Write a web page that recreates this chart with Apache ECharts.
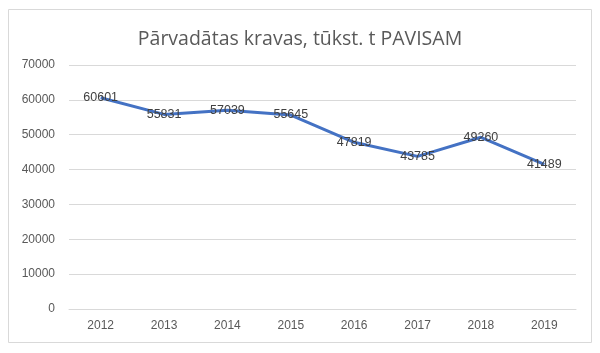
<!DOCTYPE html>
<html>
<head>
<meta charset="utf-8">
<script src="https://cdn.jsdelivr.net/npm/echarts@6/dist/echarts.min.js"></script>
<style>
  html, body { margin: 0; padding: 0; background: #fff; }
  #main { width: 600px; height: 353px; }
</style>
</head>
<body>
<div id="main"></div>
<script>
var years = ['2012', '2013', '2014', '2015', '2016', '2017', '2018', '2019'];
var kravas = [60601, 55831, 57039, 55645, 47819, 43785, 49260, 41489];

var myChart = echarts.init(document.getElementById('main'));
var option = {
    animation: false,
    textStyle: { fontFamily: 'Liberation Sans, Arial, sans-serif' },
    title: {
        text: 'Pārvadātas kravas, tūkst. t PAVISAM',
        left: 'center',
        top: 24,
        textStyle: { fontSize: 19.5, fontWeight: 'normal', color: '#595959', fontFamily: 'Open Sans, sans-serif' }
    },
    graphic: [{
        type: 'rect',
        shape: { x: 8.5, y: 9.5, width: 583, height: 333 },
        style: { fill: 'none', stroke: '#d9d9d9', lineWidth: 1 },
        silent: true
    }],
    grid: { left: 69, right: 24, top: 65, bottom: 44 },
    xAxis: {
        type: 'category',
        data: years,
        axisLine: { lineStyle: { color: '#d9d9d9' } },
        axisTick: { show: false },
        axisLabel: { color: '#595959', fontSize: 12, margin: 11 }
    },
    yAxis: {
        type: 'value',
        min: 0,
        max: 70000,
        interval: 10000,
        axisLine: { show: false },
        axisTick: { show: false },
        splitLine: { lineStyle: { color: '#d9d9d9' } },
        axisLabel: { color: '#595959', fontSize: 12, margin: 14, formatter: function (v) { return String(v); } }
    },
    series: [{
        name: 'PAVISAM',
        type: 'line',
        data: kravas,
        symbol: 'circle',
        symbolSize: 2,
        showSymbol: true,
        itemStyle: { color: 'rgba(68,114,196,0)', borderWidth: 0 },
        lineStyle: { color: '#4472c4', width: 3 },
        label: {
            show: true,
            position: 'inside',
            color: '#404040',
            fontSize: 12.5
        }
    }]
};
myChart.setOption(option);
</script>
</body>
</html>
